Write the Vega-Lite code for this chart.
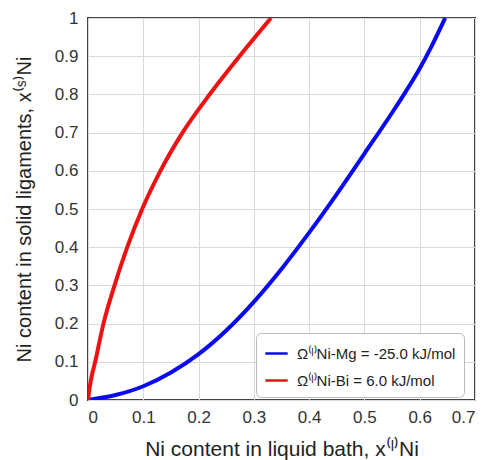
{
  "$schema": "https://vega.github.io/schema/vega-lite/v6.json",
  "width": 387,
  "height": 382,
  "autosize": "none",
  "padding": {"left": 88, "top": 18, "right": 17, "bottom": 60},
  "background": "white",
  "config": {
    "view": {"stroke": "#444", "strokeWidth": 2},
    "font": "Liberation Sans",
    "axis": {
      "grid": true, "gridColor": "#d9d9d9", "gridWidth": 1,
      "domain": false, "ticks": false,
      "labelFont": "Liberation Sans", "labelFontSize": 17, "labelColor": "#333",
      "titleFont": "Liberation Sans", "titleFontWeight": "normal", "titleColor": "#222"
    }
  },
  "data": {
    "values": [
      {"x": 0, "y": 0, "s": "Ω⁽ˡ⁾Ni-Mg = -25.0 kJ/mol"},
      {"x": 0.05, "y": 0.013, "s": "Ω⁽ˡ⁾Ni-Mg = -25.0 kJ/mol"},
      {"x": 0.1, "y": 0.036, "s": "Ω⁽ˡ⁾Ni-Mg = -25.0 kJ/mol"},
      {"x": 0.15, "y": 0.072, "s": "Ω⁽ˡ⁾Ni-Mg = -25.0 kJ/mol"},
      {"x": 0.2, "y": 0.12, "s": "Ω⁽ˡ⁾Ni-Mg = -25.0 kJ/mol"},
      {"x": 0.25, "y": 0.182, "s": "Ω⁽ˡ⁾Ni-Mg = -25.0 kJ/mol"},
      {"x": 0.3, "y": 0.257, "s": "Ω⁽ˡ⁾Ni-Mg = -25.0 kJ/mol"},
      {"x": 0.35, "y": 0.343, "s": "Ω⁽ˡ⁾Ni-Mg = -25.0 kJ/mol"},
      {"x": 0.4, "y": 0.438, "s": "Ω⁽ˡ⁾Ni-Mg = -25.0 kJ/mol"},
      {"x": 0.45, "y": 0.539, "s": "Ω⁽ˡ⁾Ni-Mg = -25.0 kJ/mol"},
      {"x": 0.5, "y": 0.645, "s": "Ω⁽ˡ⁾Ni-Mg = -25.0 kJ/mol"},
      {"x": 0.55, "y": 0.752, "s": "Ω⁽ˡ⁾Ni-Mg = -25.0 kJ/mol"},
      {"x": 0.575, "y": 0.808, "s": "Ω⁽ˡ⁾Ni-Mg = -25.0 kJ/mol"},
      {"x": 0.6, "y": 0.868, "s": "Ω⁽ˡ⁾Ni-Mg = -25.0 kJ/mol"},
      {"x": 0.62, "y": 0.922, "s": "Ω⁽ˡ⁾Ni-Mg = -25.0 kJ/mol"},
      {"x": 0.646, "y": 1.0, "s": "Ω⁽ˡ⁾Ni-Mg = -25.0 kJ/mol"},
      {"x": 0, "y": 0, "s": "Ω⁽ˡ⁾Ni-Bi =  6.0 kJ/mol"},
      {"x": 0.002, "y": 0.022, "s": "Ω⁽ˡ⁾Ni-Bi =  6.0 kJ/mol"},
      {"x": 0.005, "y": 0.05, "s": "Ω⁽ˡ⁾Ni-Bi =  6.0 kJ/mol"},
      {"x": 0.013, "y": 0.1, "s": "Ω⁽ˡ⁾Ni-Bi =  6.0 kJ/mol"},
      {"x": 0.028, "y": 0.2, "s": "Ω⁽ˡ⁾Ni-Bi =  6.0 kJ/mol"},
      {"x": 0.048, "y": 0.3, "s": "Ω⁽ˡ⁾Ni-Bi =  6.0 kJ/mol"},
      {"x": 0.071, "y": 0.4, "s": "Ω⁽ˡ⁾Ni-Bi =  6.0 kJ/mol"},
      {"x": 0.098, "y": 0.5, "s": "Ω⁽ˡ⁾Ni-Bi =  6.0 kJ/mol"},
      {"x": 0.131, "y": 0.6, "s": "Ω⁽ˡ⁾Ni-Bi =  6.0 kJ/mol"},
      {"x": 0.171, "y": 0.7, "s": "Ω⁽ˡ⁾Ni-Bi =  6.0 kJ/mol"},
      {"x": 0.22, "y": 0.8, "s": "Ω⁽ˡ⁾Ni-Bi =  6.0 kJ/mol"},
      {"x": 0.274, "y": 0.9, "s": "Ω⁽ˡ⁾Ni-Bi =  6.0 kJ/mol"},
      {"x": 0.331, "y": 1.0, "s": "Ω⁽ˡ⁾Ni-Bi =  6.0 kJ/mol"}
    ]
  },
  "mark": {"type": "line", "strokeWidth": 4, "clip": true, "interpolate": "monotone"},
  "encoding": {
    "x": {
      "field": "x", "type": "quantitative",
      "scale": {"domain": [0, 0.7], "nice": false},
      "axis": {"values": [0, 0.1, 0.2, 0.3, 0.4, 0.5, 0.6, 0.7], "format": ".1~f", "labelPadding": 9, "titlePadding": 13, "titleFontSize": 21,
               "title": "Ni content in liquid bath, x⁽ˡ⁾Ni"}
    },
    "y": {
      "field": "y", "type": "quantitative",
      "scale": {"domain": [0, 1], "nice": false},
      "axis": {"values": [0, 0.1, 0.2, 0.3, 0.4, 0.5, 0.6, 0.7, 0.8, 0.9, 1], "format": ".1~f", "labelPadding": 10, "titlePadding": 20, "titleFontSize": 20,
               "title": "Ni content in solid ligaments, x⁽ˢ⁾Ni"}
    },
    "color": {
      "field": "s", "type": "nominal",
      "scale": {"domain": ["Ω⁽ˡ⁾Ni-Mg = -25.0 kJ/mol", "Ω⁽ˡ⁾Ni-Bi =  6.0 kJ/mol"], "range": ["#0a0aef", "#ee1111"]},
      "legend": {
        "title": null, "orient": "none", "legendX": 168, "legendY": 315,
        "strokeColor": "#bbb", "cornerRadius": 5, "fillColor": "white", "padding": 8,
        "symbolType": "stroke", "symbolSize": 500, "symbolStrokeWidth": 2.5,
        "labelFontSize": 15, "labelLimit": 400, "labelColor": "#222", "rowPadding": 6, "labelOffset": 8
      }
    }
  }
}
